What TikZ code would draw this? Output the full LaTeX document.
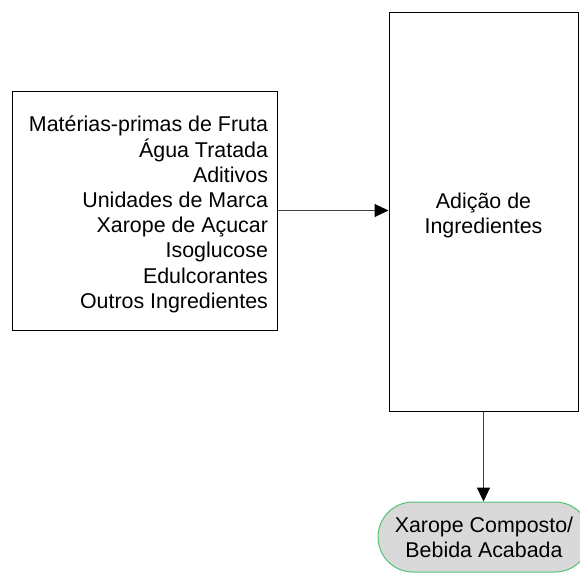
\documentclass[tikz,border=0pt]{standalone}
\usepackage{fontspec}
\setmainfont{Liberation Sans}
\usetikzlibrary{arrows.meta}
\definecolor{termgreen}{RGB}{80,195,115}
\definecolor{termgray}{RGB}{217,217,217}
\definecolor{conngray}{RGB}{64,64,64}
\begin{document}
\begin{tikzpicture}[x=1pt,y=-1pt,
  lbl/.style={font=\fontsize{21.4}{25.2}\selectfont},
  procbox/.style={draw=black, line width=1pt, fill=white, inner sep=0pt},
  termbox/.style={draw=termgreen, fill=termgray, line width=1pt, rounded corners=35pt,
    minimum width=212pt, minimum height=70pt, align=center, lbl},
  conn/.style={draw=conngray, line width=1pt, -{Triangle[length=14pt,width=13pt,fill=black,color=black]}}
]
\useasboundingbox (0,0) rectangle (580,573);
% source box
\node[procbox, minimum width=265pt, minimum height=239pt] (src) at (144.5,210.5) {};
\node[lbl, align=right, anchor=east] (srctxt) at ([xshift=-6pt,yshift=-4pt]src.east)
  {Matérias-primas de Fruta\\Água Tratada\\Aditivos\\Unidades de Marca\\Xarope de Açucar\\Isoglucose\\Edulcorantes\\Outros Ingredientes};
% process box
\node[procbox, minimum width=189pt, minimum height=399pt] (add) at (483.5,211.5) {};
\node[lbl, align=center] (addtxt) at ([yshift=-4pt]add.center) {Adição de\\Ingredientes};
% terminal
\node[termbox] (out) at (484,537) {Xarope Composto/\\Bebida Acabada};
% connectors
\draw[conn] (src.east) -- (src.east -| add.west);
\draw[conn] (add.south) -- (add.south |- out.north);
\end{tikzpicture}
\end{document}
